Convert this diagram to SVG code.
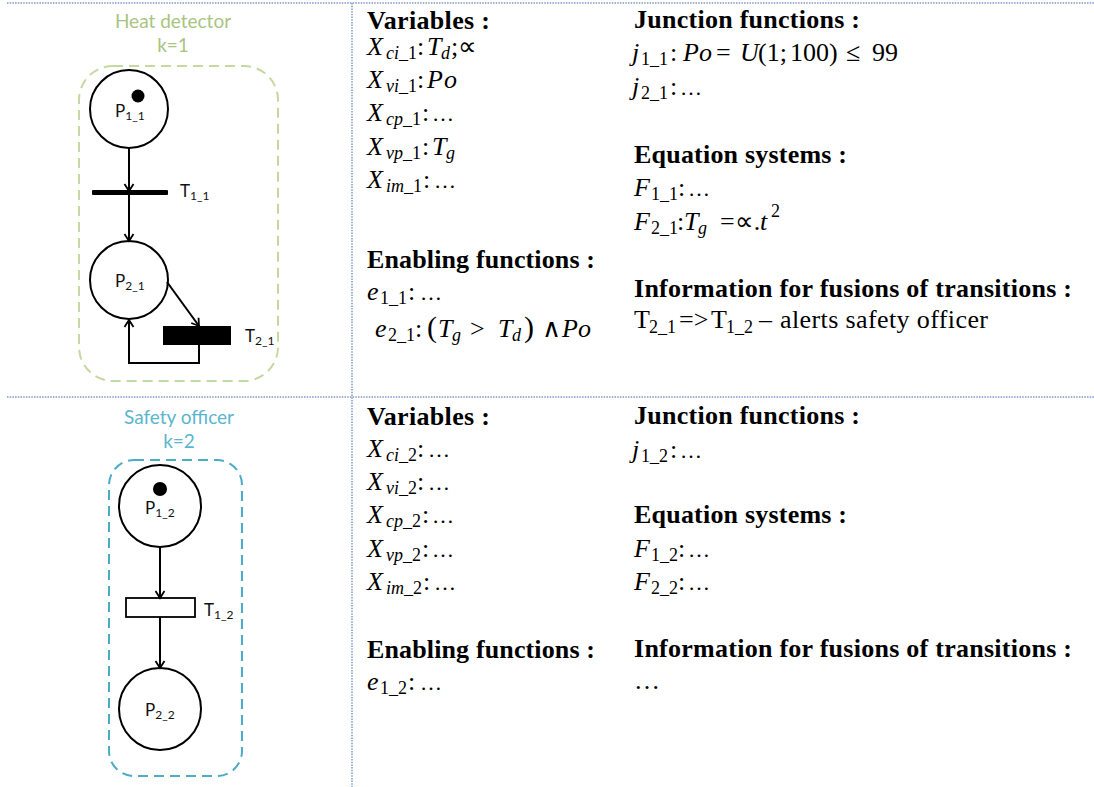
<svg xmlns="http://www.w3.org/2000/svg" width="1094" height="787" viewBox="0 0 1094 787">
<style>
.grid{stroke:#7f99c9;stroke-width:1.5;stroke-dasharray:1.5 1.2;fill:none}
.h{font-family:"Liberation Serif",serif;font-weight:bold;font-size:26px;fill:#000}
.r{font-family:"Liberation Serif",serif;font-size:26px;fill:#000}
.m{font-family:"Liberation Serif",serif;font-style:italic;font-size:26px;fill:#000}
.u{font-style:normal}
.s{font-size:18px}
.el{font-style:normal;font-size:22px}
.lbl{font-family:Lato,"Liberation Sans",sans-serif;font-size:17px;fill:#111}
.lsub{font-size:12px}
.place{fill:#fff;stroke:#000;stroke-width:2}
.arc{fill:none;stroke:#000;stroke-width:2;marker-end:url(#ah)}
.t1{font-family:Lato,"Liberation Sans",sans-serif;font-size:19px;fill:#a9c47f;text-anchor:middle}
.t2{font-family:Lato,"Liberation Sans",sans-serif;font-size:19px;fill:#5bb5cd;text-anchor:middle}
</style>
<defs>
<marker id="ah" markerWidth="12" markerHeight="12" refX="10" refY="6" orient="auto" markerUnits="userSpaceOnUse">
<path d="M3,1.5 L10,6 L3,10.5" fill="none" stroke="#000" stroke-width="1.8"/>
</marker>
</defs>
<rect width="1094" height="787" fill="#fff"/>
<g id="table">
<line class="grid" x1="7" y1="3" x2="1094" y2="3"/>
<line class="grid" x1="7" y1="397" x2="1094" y2="397"/>
<line class="grid" x1="352" y1="3" x2="352" y2="787"/>
</g>

<g id="heat-detector">
<text class="t1" x="173" y="28">Heat detector</text>
<text class="t1" x="173" y="52">k=1</text>
<rect x="79" y="66" width="199" height="315" rx="34" fill="none" stroke="#c5d89f" stroke-width="2" stroke-dasharray="10 6"/>
</g>
<g id="P1_1">
<circle class="place" cx="129" cy="109" r="39"/>
<circle cx="138" cy="96" r="6.5" fill="#000"/>
<text class="lbl" x="115" y="117">P<tspan class="lsub" dy="3">1_1</tspan></text>
</g>
<g id="T1_1">
<rect x="92" y="190" width="76" height="5" rx="1" fill="#000"/>
<text class="lbl" x="180" y="197">T<tspan class="lsub" dy="3">1_1</tspan></text>
</g>
<g id="P2_1">
<circle class="place" cx="129" cy="280" r="39"/>
<text class="lbl" x="115" y="287">P<tspan class="lsub" dy="3">2_1</tspan></text>
</g>
<g id="T2_1">
<rect x="163" y="326" width="68" height="19" fill="#000"/>
<text class="lbl" x="245" y="342">T<tspan class="lsub" dy="3">2_1</tspan></text>
</g>

<g id="safety-officer">
<text class="t2" x="179" y="424">Safety officer</text>
<text class="t2" x="179" y="448">k=2</text>
<rect x="109" y="460" width="133" height="316" rx="25" fill="none" stroke="#4bacc6" stroke-width="2" stroke-dasharray="10 6"/>
</g>
<g id="P1_2">
<circle class="place" cx="160" cy="506" r="41"/>
<circle cx="160" cy="489" r="7" fill="#000"/>
<text class="lbl" x="145" y="514">P<tspan class="lsub" dy="3">1_2</tspan></text>
</g>
<g id="T1_2">
<rect x="126" y="598" width="69" height="19" fill="#fff" stroke="#000" stroke-width="1.8"/>
<text class="lbl" x="204" y="616">T<tspan class="lsub" dy="3">1_2</tspan></text>
</g>
<g id="P2_2">
<circle class="place" cx="160" cy="709" r="41"/>
<text class="lbl" x="145" y="716">P<tspan class="lsub" dy="3">2_2</tspan></text>
</g>

<g id="connectors">
<line class="arc" x1="129" y1="148" x2="129" y2="191"/>
<line class="arc" x1="129" y1="195" x2="129" y2="241"/>
<line class="arc" x1="167" y1="282" x2="199" y2="326"/>
<polyline class="arc" points="199,345 199,363 129,363 129,320"/>
<line class="arc" x1="160" y1="547" x2="160" y2="598"/>
<line class="arc" x1="160" y1="617" x2="160" y2="668"/>
</g>

<g id="texts-row1-col1">
<text class="h" x="367" y="29" textLength="123" lengthAdjust="spacing">Variables :</text>
<text class="m" y="55"><tspan x="367">X</tspan><tspan class="s" x="386" y="59">ci</tspan><tspan class="s u">_1</tspan><tspan class="u" x="417" y="55">:</tspan><tspan x="427">T</tspan><tspan class="s" x="441" y="59">d</tspan><tspan class="u" x="451" y="55">;</tspan><tspan class="u" x="458">∝</tspan></text>
<text class="m" y="88"><tspan x="367">X</tspan><tspan class="s" x="386" y="92">vi</tspan><tspan class="s u">_1</tspan><tspan class="u" x="417" y="88">:</tspan><tspan x="427">P</tspan><tspan x="444">o</tspan></text>
<text class="m" y="121"><tspan x="367">X</tspan><tspan class="s" x="386" y="125">cp</tspan><tspan class="s u">_1</tspan><tspan class="u" x="422" y="121">:</tspan><tspan class="el" x="432">…</tspan></text>
<text class="m" y="155"><tspan x="367">X</tspan><tspan class="s" x="386" y="159">vp</tspan><tspan class="s u">_1</tspan><tspan class="u" x="422" y="155">:</tspan><tspan x="432">T</tspan><tspan class="s" x="446" y="159">g</tspan></text>
<text class="m" y="188"><tspan x="367">X</tspan><tspan class="s" x="386" y="192">im</tspan><tspan class="s u">_1</tspan><tspan class="u" x="423" y="188">:</tspan><tspan class="el" x="434">…</tspan></text>
<text class="h" x="367" y="268" textLength="228" lengthAdjust="spacing">Enabling functions :</text>
<text class="m" y="300"><tspan x="367">e</tspan><tspan class="s u" x="380" y="304">1_1</tspan><tspan class="u" x="408" y="300">:</tspan><tspan class="el" x="420">…</tspan></text>
<text class="m" y="337"><tspan x="375">e</tspan><tspan class="s u" x="388" y="341">2_1</tspan><tspan class="u" x="415" y="337">:</tspan><tspan class="u" x="427" font-size="30">(</tspan><tspan x="438">T</tspan><tspan class="s" x="452" y="341">g</tspan><tspan class="u" x="470" y="337">&gt;</tspan><tspan x="498">T</tspan><tspan class="s" x="512" y="341">d</tspan><tspan class="u" x="524" y="337" font-size="30">)</tspan><tspan class="u" x="542">∧</tspan><tspan x="562">P</tspan><tspan x="578">o</tspan></text>
</g>

<g id="texts-row1-col2">
<text class="h" x="634" y="28" textLength="226" lengthAdjust="spacing">Junction functions :</text>
<text class="m" y="61"><tspan x="632">j</tspan><tspan class="s u" x="641" y="65">1_1</tspan><tspan class="u" x="670" y="61">:</tspan><tspan x="683">P</tspan><tspan x="699">o</tspan><tspan class="u" x="716">=</tspan><tspan x="740">U</tspan><tspan class="u" x="758">(1;</tspan><tspan class="u" x="790">100)</tspan><tspan class="u" x="846">≤</tspan><tspan class="u" x="872">99</tspan></text>
<text class="m" y="95"><tspan x="632">j</tspan><tspan class="s u" x="641" y="99">2_1</tspan><tspan class="u" x="670" y="95">:</tspan><tspan class="el" x="680">…</tspan></text>
<text class="h" x="634" y="163" textLength="213" lengthAdjust="spacing">Equation systems :</text>
<text class="m" y="196"><tspan x="634">F</tspan><tspan class="s u" x="651" y="200">1_1</tspan><tspan class="u" x="678" y="196">:</tspan><tspan class="el" x="688">…</tspan></text>
<text class="m" y="230"><tspan x="634">F</tspan><tspan class="s u" x="651" y="234">2_1</tspan><tspan class="u" x="677" y="230">:</tspan><tspan x="684">T</tspan><tspan class="s" x="698" y="234">g</tspan><tspan class="u" x="720" y="230">=∝.</tspan><tspan x="760">t</tspan><tspan class="s u" x="771" y="217">2</tspan></text>
<text class="h" x="634" y="297" textLength="438" lengthAdjust="spacing">Information for fusions of transitions :</text>
<text class="r" y="328"><tspan x="634">T</tspan><tspan class="s" x="649" y="333">2_1</tspan><tspan x="679" y="328">=&gt;</tspan><tspan x="711">T</tspan><tspan class="s" x="726" y="333">1_2</tspan><tspan x="759" y="328">–</tspan><tspan x="780" textLength="208" lengthAdjust="spacing">alerts safety officer</tspan></text>
</g>

<g id="texts-row2-col1">
<text class="h" x="367" y="425" textLength="123" lengthAdjust="spacing">Variables :</text>
<text class="m" y="457"><tspan x="367">X</tspan><tspan class="s" x="386" y="461">ci</tspan><tspan class="s u">_2</tspan><tspan class="u" x="417" y="457">:</tspan><tspan class="el" x="428">…</tspan></text>
<text class="m" y="490"><tspan x="367">X</tspan><tspan class="s" x="386" y="494">vi</tspan><tspan class="s u">_2</tspan><tspan class="u" x="417" y="490">:</tspan><tspan class="el" x="428">…</tspan></text>
<text class="m" y="523"><tspan x="367">X</tspan><tspan class="s" x="386" y="527">cp</tspan><tspan class="s u">_2</tspan><tspan class="u" x="422" y="523">:</tspan><tspan class="el" x="432">…</tspan></text>
<text class="m" y="557"><tspan x="367">X</tspan><tspan class="s" x="386" y="561">vp</tspan><tspan class="s u">_2</tspan><tspan class="u" x="422" y="557">:</tspan><tspan class="el" x="432">…</tspan></text>
<text class="m" y="590"><tspan x="367">X</tspan><tspan class="s" x="386" y="594">im</tspan><tspan class="s u">_2</tspan><tspan class="u" x="423" y="590">:</tspan><tspan class="el" x="434">…</tspan></text>
<text class="h" x="367" y="658" textLength="228" lengthAdjust="spacing">Enabling functions :</text>
<text class="m" y="690"><tspan x="367">e</tspan><tspan class="s u" x="380" y="694">1_2</tspan><tspan class="u" x="408" y="690">:</tspan><tspan class="el" x="420">…</tspan></text>
</g>

<g id="texts-row2-col2">
<text class="h" x="634" y="424" textLength="226" lengthAdjust="spacing">Junction functions :</text>
<text class="m" y="458"><tspan x="632">j</tspan><tspan class="s u" x="641" y="462">1_2</tspan><tspan class="u" x="670" y="458">:</tspan><tspan class="el" x="680">…</tspan></text>
<text class="h" x="634" y="523" textLength="213" lengthAdjust="spacing">Equation systems :</text>
<text class="m" y="557"><tspan x="634">F</tspan><tspan class="s u" x="651" y="561">1_2</tspan><tspan class="u" x="678" y="557">:</tspan><tspan class="el" x="688">…</tspan></text>
<text class="m" y="590"><tspan x="634">F</tspan><tspan class="s u" x="651" y="594">2_2</tspan><tspan class="u" x="678" y="590">:</tspan><tspan class="el" x="688">…</tspan></text>
<text class="h" x="634" y="657" textLength="438" lengthAdjust="spacing">Information for fusions of transitions :</text>
<text class="r" x="634" y="689">…</text>
</g>
</svg>
